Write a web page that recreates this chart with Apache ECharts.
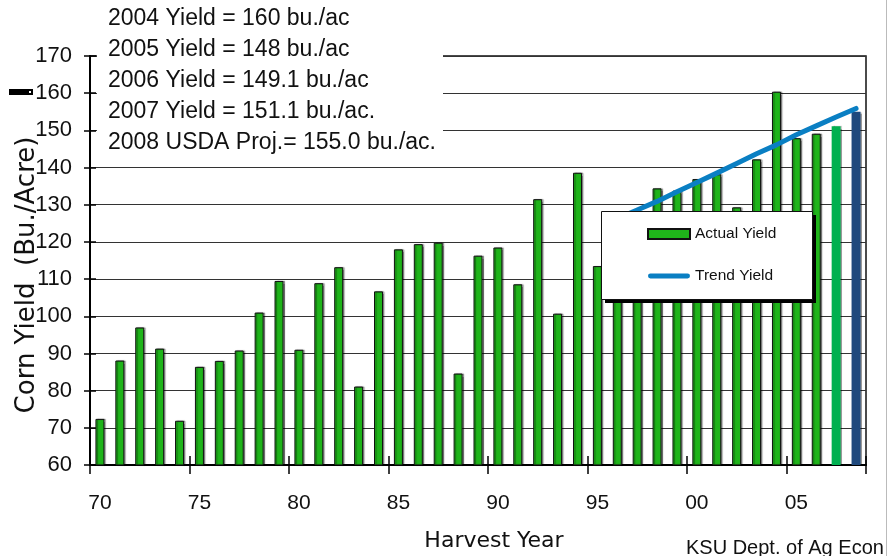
<!DOCTYPE html>
<html>
<head>
<meta charset="utf-8">
<script src="https://cdn.jsdelivr.net/npm/echarts@6/dist/echarts.min.js"></script>
<style>html,body{margin:0;padding:0;background:#fff;}#c{width:888px;height:556px;}</style>
</head>
<body>
<div id="c"></div>
<script>
// ---- data ----
const years = ['1970','1971','1972','1973','1974','1975','1976','1977','1978','1979',
  '1980','1981','1982','1983','1984','1985','1986','1987','1988','1989',
  '1990','1991','1992','1993','1994','1995','1996','1997','1998','1999',
  '2000','2001','2002','2003','2004','2005','2006','2007','2008'];
const actualYield = [72.4, 88.1, 97.0, 91.3, 71.9, 86.4, 88.0, 90.8, 101.0, 109.5,
  91.0, 108.9, 113.2, 81.1, 106.7, 118.0, 119.4, 119.8, 84.6, 116.3,
  118.5, 108.6, 131.5, 100.7, 138.6, 113.5, 127.1, 126.7, 134.4, 133.8,
  136.9, 138.2, 129.3, 142.2, 160.4, 147.9, 149.1, 151.1, 155.0];
const trendStartYear = '1996';
const trendYield = [126.3, 128.6, 130.9, 133.5, 136.0, 138.5, 141.1, 143.7, 146.1, 148.8, 151.2, 153.6, 155.9];
const yTicks = [60, 170, 10]; // min, max, step
const noteLines = [
  '2004 Yield = 160 bu./ac',
  '2005 Yield = 148 bu./ac',
  '2006 Yield = 149.1 bu./ac',
  '2007 Yield = 151.1 bu./ac.',
  '2008 USDA Proj.= 155.0 bu./ac.'
];

// ---- build ----
const FONT = 'Liberation Sans';
const trendStartIdx = years.indexOf(trendStartYear);
const trendData = years.map((y, i) => (i >= trendStartIdx ? trendYield[i - trendStartIdx] : '-'));
const barData = actualYield.map((v, i) => {
  if (years[i] === '2007') return { value: v, itemStyle: { color: '#00B050', borderWidth: 0 } };
  if (years[i] === '2008') return { value: v, itemStyle: { color: '#1F497D', borderWidth: 0 } };
  return v;
});

const chart = echarts.init(document.getElementById('c'), null, { renderer: 'canvas' });

const noteTexts = noteLines.map((t, i) => ({
  type: 'text', left: 108, top: 7 + i * 31, z: 6,
  style: { text: t, font: '23px "' + FONT + '"', fill: '#111' }
}));

chart.setOption({
  animation: false,
  backgroundColor: '#fff',
  grid: { left: 90, right: 22, top: 56, bottom: 91, show: true, borderColor: '#111', borderWidth: 1.5, containLabel: false },
  legend: {
    data: [
      { name: 'Actual Yield', icon: 'rect' },
      { name: 'Trend Yield', icon: 'path://M2.5,0 H40.5 A2.5,2.5 0 0 1 40.5,5 H2.5 A2.5,2.5 0 0 1 2.5,0 Z' }
    ],
    orient: 'vertical', left: 647, top: 225, padding: 0,
    itemWidth: 42, itemHeight: 10, itemGap: 24,
    textStyle: { fontFamily: FONT, fontSize: 15.5, lineHeight: 18, color: '#111' },
    z: 8
  },
  xAxis: [{
    type: 'category', data: years, boundaryGap: true,
    axisLine: { show: true, lineStyle: { color: '#000', width: 2 } },
    axisTick: { show: true, interval: (i) => i % 5 === 0, length: 9, lineStyle: { color: '#000', width: 1.5 } },
    axisLabel: { interval: (i) => i % 5 === 0, formatter: (v) => v.slice(2), fontFamily: FONT, fontSize: 21, color: '#111', margin: 28 },
    splitLine: { show: false }
  }, {
    type: 'category', data: years, boundaryGap: true, position: 'bottom',
    axisLine: { show: false },
    axisTick: { show: true, inside: true, interval: (i) => i % 5 === 0, length: 9, lineStyle: { color: '#000', width: 1.5 } },
    axisLabel: { show: false }, splitLine: { show: false }
  }],
  yAxis: [{
    type: 'value', min: yTicks[0], max: yTicks[1], interval: yTicks[2],
    axisLine: { show: true, lineStyle: { color: '#000', width: 2 } },
    axisTick: { show: true, length: 6, lineStyle: { color: '#000', width: 1.5 } },
    axisLabel: { fontFamily: FONT, fontSize: 22, color: '#111', margin: 18 },
    splitLine: { show: true, lineStyle: { color: '#333', width: 1 } }
  }, {
    type: 'value', min: yTicks[0], max: yTicks[1], interval: yTicks[2], position: 'left', offset: 0,
    axisLine: { show: false },
    axisTick: { show: true, inside: true, length: 6, lineStyle: { color: '#000', width: 1.5 } },
    axisLabel: { show: false }, splitLine: { show: false }
  }],
  series: [{
    name: 'Actual Yield', type: 'bar', data: barData, barWidth: 9,
    itemStyle: { color: '#1FB41A', borderColor: '#111', borderWidth: 1,
      shadowColor: 'rgba(0,0,0,0.4)', shadowOffsetX: 1.5, shadowOffsetY: 0, shadowBlur: 1 },
    z: 2
  }, {
    name: 'Trend Yield', type: 'line', data: trendData, symbol: 'none', showSymbol: false,
    lineStyle: { color: '#0A7FC3', width: 5, cap: 'round', join: 'round' },
    itemStyle: { color: '#0A7FC3' },
    z: 3
  }],
  graphic: [
    // text box covering gridlines
    { type: 'rect', shape: { x: 97, y: 0, width: 346, height: 158 }, style: { fill: '#fff' }, z: 5 },
    ...noteTexts,
    // legend box with shadow
    { type: 'rect', shape: { x: 605, y: 215, width: 211, height: 88 }, style: { fill: '#000' }, z: 6 },
    { type: 'rect', shape: { x: 601.5, y: 211.5, width: 211, height: 88 }, style: { fill: '#fff', stroke: '#111', lineWidth: 1 }, z: 7 },
    // odd black mark near 160
    { type: 'rect', shape: { x: 9, y: 89, width: 24, height: 6 }, style: { fill: '#000' }, z: 6 },
    { type: 'rect', shape: { x: 29, y: 91, width: 2, height: 2 }, style: { fill: '#fff' }, z: 7 },
    // axis titles
    { type: 'text', x: 27, y: 275, rotation: Math.PI / 2, z: 6,
      style: { text: 'Corn Yield  (Bu./Acre)', font: '26px "DejaVu Sans"', fill: '#111', align: 'center', verticalAlign: 'middle' } },
    { type: 'text', x: 494, y: 541, z: 6,
      style: { text: 'Harvest Year', font: '22px "DejaVu Sans"', fill: '#111', align: 'center', verticalAlign: 'middle' } },
    { type: 'text', x: 686, y: 548, z: 6,
      style: { text: 'KSU Dept. of Ag Econ', font: '20px "' + FONT + '"', fill: '#111', align: 'left', verticalAlign: 'middle' } },
    // right-edge frame line
    { type: 'rect', shape: { x: 886, y: 0, width: 1, height: 556 }, style: { fill: '#bbb' }, z: 6 }
  ]
});
</script>
</body>
</html>
